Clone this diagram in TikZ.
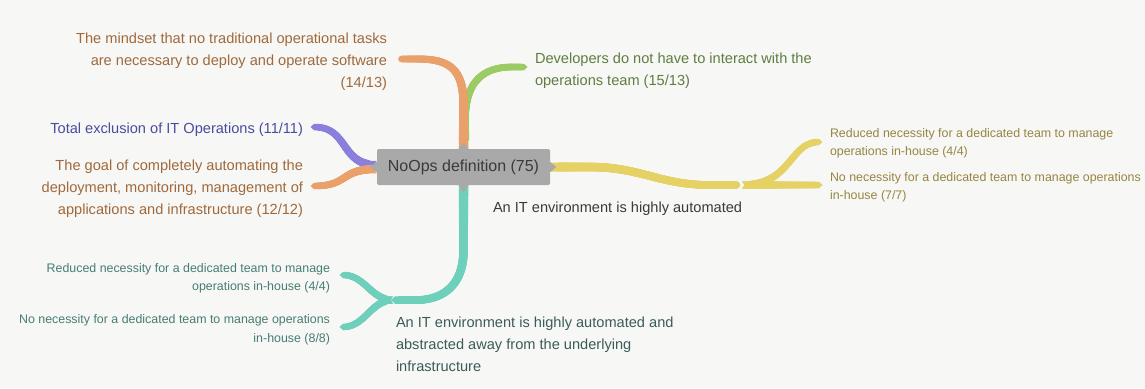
\documentclass[tikz,border=0pt]{standalone}
\usepackage{fontspec}
\setmainfont{Liberation Sans}
\usetikzlibrary{decorations.markings,calc}

\definecolor{bgpaper}{HTML}{F7F7F5}
\definecolor{brOrange}{HTML}{E9A06B}
\definecolor{brGreen}{HTML}{9BCB62}
\definecolor{brPurple}{HTML}{8A80DB}
\definecolor{brYellow}{HTML}{E6D164}
\definecolor{brTeal}{HTML}{6ED0BA}
\definecolor{txOrange}{HTML}{A0693C}
\definecolor{txGreen}{HTML}{5F7D41}
\definecolor{txPurple}{HTML}{4B4BA0}
\definecolor{txYellow}{HTML}{968541}
\definecolor{txTeal}{HTML}{467D73}
\definecolor{txTealDark}{HTML}{3A5C58}
\definecolor{txDark}{HTML}{3A3A3A}
\definecolor{coreFill}{HTML}{A9A9A9}

\tikzset{
  % tapered band: colour, width at start, width at end;
  % notched start, pointed end
  branch/.style n args={3}{
    decoration={markings,
      mark=between positions 0 and 1 step 0.5pt with {
        \pgfmathsetmacro\brD{\pgfkeysvalueof{/pgf/decoration/mark info/distance from start}}
        \pgfmathsetmacro\brL{\pgfdecoratedpathlength}
        \pgfmathsetmacro\brR{(#2+(#3-#2)*\brD/\brL)/2}
        \pgfmathtruncatemacro\brIn{and(\brD>=2*\brR,\brD<=\brL-\brR)}
        \ifnum\brIn=1 \fill[#1] (0pt,0pt) circle[radius=\brR pt];\fi
        \pgfmathtruncatemacro\brFirst{\brD<0.25}
        \ifnum\brFirst=1
          \pgfmathsetlengthmacro\brS{#2/2*1pt}
          \fill[#1] (0pt,-\brS) -- (2*\brS+1pt,-\brS) -- (2*\brS+1pt,\brS)
            -- (0pt,\brS) -- (0.7*\brS,0pt) -- cycle;
        \fi
        \pgfmathtruncatemacro\brLast{\brD>\brL-0.5}
        \ifnum\brLast=1
          \pgfmathsetlengthmacro\brE{#3/2*1pt}
          \pgfmathsetlengthmacro\brO{(\brL-\brD)*1pt}
          \fill[#1] (\brO-\brE-1pt,-\brE) -- (\brO,-\brE) -- (\brO+1.1*\brE,0pt)
            -- (\brO,\brE) -- (\brO-\brE-1pt,\brE) -- cycle;
        \fi
      }},
    postaction={decorate}
  },
  lbl/.style={inner sep=0pt, outer sep=0pt},
  bigtext/.style={lbl, font=\fontsize{14.6}{22}\selectfont},
  smalltext/.style={lbl, font=\fontsize{12.4}{18.5}\selectfont},
  corebox/.style={fill=coreFill, rounded corners=2pt, minimum width=173pt,
    minimum height=36pt, inner sep=0pt, text=txDark,
    font=\fontsize{16}{19}\selectfont}
}

\begin{document}
\begin{tikzpicture}[x=1pt,y=-1pt]
\useasboundingbox (0,0) rectangle (1145,388);
\fill[bgpaper] (0,0) rectangle (1145,388);

% central topic
\node[corebox] (core) at (463.5,167) {NoOps definition (75)};

% labels (anchored on the baseline of their last line)
\node[bigtext, text=txOrange, align=right, anchor=base east] (mind) at (387,87)
  {The mindset that no traditional operational tasks\\are necessary to deploy and operate software\\(14/13)};
\node[bigtext, text=txGreen, align=left, anchor=base west] (dev) at (535,85)
  {Developers do not have to interact with the\\operations team (15/13)};
\node[bigtext, text=txPurple, anchor=base east] (total) at (303,133)
  {Total exclusion of IT Operations (11/11)};
\node[bigtext, text=txOrange, align=right, anchor=base east] (goal) at (303,214.5)
  {The goal of completely automating the\\deployment, monitoring, management of\\applications and infrastructure (12/12)};
\node[bigtext, text=txDark, anchor=base west] (auto) at (493,212)
  {An IT environment is highly automated};
\node[smalltext, text=txYellow, align=left, anchor=base west] (ry1) at (830,155.5)
  {Reduced necessity for a dedicated team to manage\\operations in-house (4/4)};
\node[smalltext, text=txYellow, align=left, anchor=base west] (ry2) at (830,199.5)
  {No necessity for a dedicated team to manage operations\\in-house (7/7)};
\node[smalltext, text=txTeal, align=right, anchor=base east] (tl1) at (330,290.5)
  {Reduced necessity for a dedicated team to manage\\operations in-house (4/4)};
\node[smalltext, text=txTeal, align=right, anchor=base east] (tl2) at (330,342)
  {No necessity for a dedicated team to manage operations\\in-house (8/8)};
\node[bigtext, text=txTealDark, align=left, anchor=base west] (abs) at (396,371.5)
  {An IT environment is highly automated and\\abstracted away from the underlying\\infrastructure};

% branch end points
\coordinate (mindTip) at (398,59);
\coordinate (devTip) at (524,67);
\coordinate (totalTip) at (314,127);
\coordinate (goalTip) at (314,186);
\coordinate (yJoin) at (740,185);
\coordinate (yUpTip) at (819,142);
\coordinate (yLowTip) at (819,185);
\coordinate (tJoin) at (395,300);
\coordinate (tUpTip) at (343,275);
\coordinate (tLowTip) at (343,327);

% branches
\path[branch={brGreen}{8}{6.5}] ([xshift=1.5pt,yshift=8pt]core.north) -- ++(0,-23)
  .. controls +(1,-38) and +(-27,0) .. ($(devTip)+(-12,0)$) -- (devTip);
\path[branch={brOrange}{9.5}{6.5}] (core.north) -- ++(0,-44)
  .. controls +(0,-35) and +(32,0) .. ($(mindTip)+(20,0)$) -- (mindTip);
\path[branch={brPurple}{8.5}{6.5}] ([yshift=2pt]core.west)
  .. controls +(-37,0) and +(35,0) .. (totalTip);
\path[branch={brOrange}{8.5}{6.5}] ([yshift=-2pt]core.west)
  .. controls +(-37,0) and +(35,0) .. (goalTip);
\path[branch={brYellow}{9}{7.5}] (core.east) -- ++(40,0)
  .. controls +(50,0) and +(-50,0) .. ($(yJoin)+(-30,0)$) -- (yJoin);
\path[branch={brYellow}{7.5}{6.5}] ([xshift=2pt]yJoin)
  .. controls +(50,0) and +(-30,0) .. (yUpTip);
\path[branch={brYellow}{7.5}{6.5}] ([xshift=2pt]yJoin) -- (yLowTip);
\path[branch={brTeal}{9.5}{7.5}] (core.south) -- ++(0,65)
  .. controls +(0,40) and +(20,0) .. ($(tJoin)+(22,0)$) -- (tJoin);
\path[branch={brTeal}{7.5}{6.5}] ([xshift=-2pt]tJoin)
  .. controls +(-22,0) and +(22,0) .. (tUpTip);
\path[branch={brTeal}{7.5}{6.5}] ([xshift=-2pt]tJoin)
  .. controls +(-22,0) and +(22,0) .. (tLowTip);

% pointers on the central box
\fill[coreFill] ([xshift=-5pt]core.north) -- ([yshift=6pt]core.north) -- ([xshift=5pt]core.north) -- cycle;
\fill[coreFill] ([xshift=-5pt]core.south) -- ([yshift=-7pt]core.south) -- ([xshift=5pt]core.south) -- cycle;
\fill[coreFill] ([yshift=-5pt]core.west) -- ([xshift=-7pt]core.west) -- ([yshift=5pt]core.west) -- cycle;
\fill[coreFill] ([yshift=-5pt]core.east) -- ([xshift=6pt]core.east) -- ([yshift=5pt]core.east) -- cycle;
\end{tikzpicture}
\end{document}
